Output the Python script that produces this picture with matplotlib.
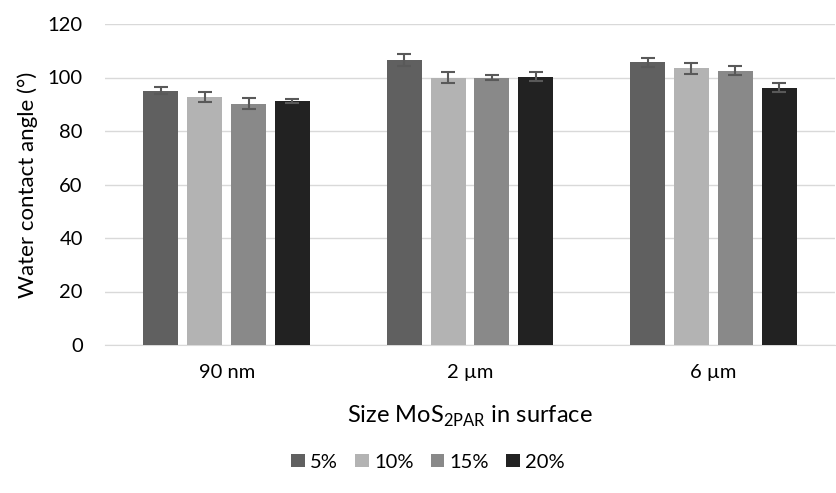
import matplotlib
matplotlib.use("Agg")
import matplotlib.pyplot as plt
import numpy as np

plt.rcParams["font.family"] = ["Lato", "DejaVu Sans"]

groups = ["90 nm", "2 µm", "6 µm"]
series = ["5%", "10%", "15%", "20%"]
values = [
    [95.1, 106.5, 105.7],
    [92.7, 99.9, 103.4],
    [90.2, 100.0, 102.6],
    [91.3, 100.3, 96.2],
]
errors = [
    [1.3, 2.2, 1.6],
    [1.75, 2.0, 2.0],
    [2.0, 1.0, 1.75],
    [0.8, 1.6, 1.75],
]
colors = ["#606060", "#b3b3b3", "#898989", "#222222"]

fig = plt.figure(figsize=(8.37, 4.93), dpi=100)
ax = fig.add_axes([105 / 837, 1 - 345 / 493, 730 / 837, 321 / 493])

x = np.arange(len(groups))
width = 0.144
step = 0.18
for i, (name, vals, errs, c) in enumerate(zip(series, values, errors, colors)):
    pos = x + (i - 1.5) * step
    ax.bar(pos, vals, width, color=c, label=name, zorder=3)
    ax.errorbar(pos, vals, yerr=errs, fmt="none", ecolor="#595959",
                elinewidth=1.5, capsize=5, capthick=1.5, zorder=4)

ax.set_xlim(-0.5, 2.5)
ax.set_ylim(0, 120)
ax.set_yticks(range(0, 121, 20))
ax.set_xticks(x)
ax.set_xticklabels(groups)
ax.grid(axis="y", color="#d9d9d9", linewidth=1, zorder=0)
for s in ["top", "right", "left"]:
    ax.spines[s].set_visible(False)
ax.spines["bottom"].set_color("#d9d9d9")
ax.tick_params(length=0, labelsize=14.5, colors="#000000")
ax.tick_params(axis="y", pad=16)
ax.tick_params(axis="x", pad=14)

ax.set_ylabel("Water contact angle (°)", fontsize=16)
ax.yaxis.set_label_coords(-0.092, 0.5)
ax.set_xlabel("Size MoS$_{\\mathregular{2PAR}}$ in surface", fontsize=17)
ax.xaxis.set_label_coords(0.5, -0.184)

fig.legend(loc="center", bbox_to_anchor=(428 / 837, 1 - 462 / 493), ncol=4,
           frameon=False, fontsize=14.5, handlelength=0.67, handleheight=0.67,
           handletextpad=0.25, columnspacing=0.87, borderpad=0)

fig.savefig("out.png", dpi=100)
